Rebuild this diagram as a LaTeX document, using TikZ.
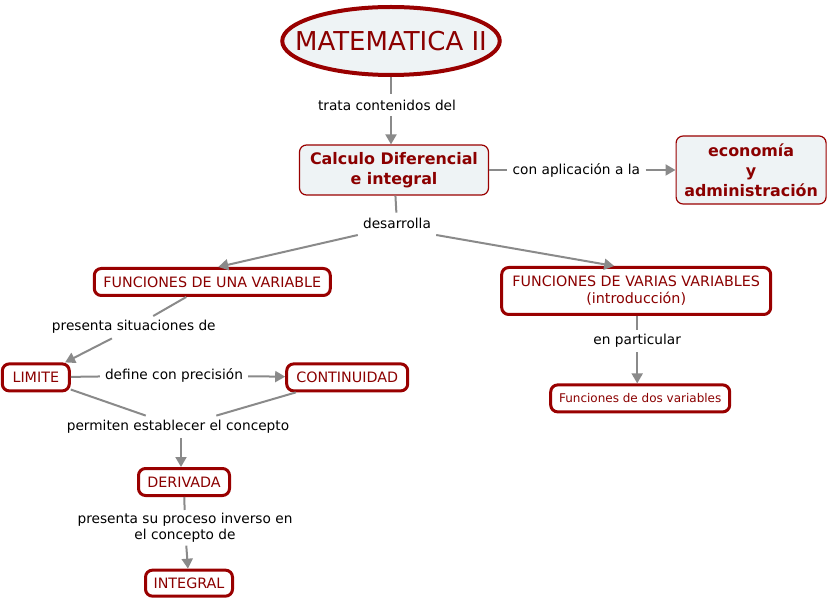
\documentclass[tikz,border=0pt]{standalone}
\usepackage{fontspec}
\setmainfont{DejaVu Sans}
\usetikzlibrary{arrows.meta,positioning,shapes.geometric}
\definecolor{r}{HTML}{8B0000}
\definecolor{R}{HTML}{990000}
\definecolor{g}{HTML}{8A8A8A}
\definecolor{f}{HTML}{EEF3F5}

\begin{document}
\begin{tikzpicture}[x=1pt,y=1pt,font=\fontsize{13.7}{16}\selectfont,
  concept/.style={draw=R,line width=3pt,rounded corners=7pt,fill=white,text=r,
    align=center,inner sep=0pt,font=\fontsize{14.3}{17}\selectfont},
  main/.style={draw=R,line width=1.2pt,rounded corners=7pt,fill=f,text=r,
    align=center,inner sep=0pt,font=\fontsize{15.9}{20}\selectfont\bfseries},
  link/.style={align=center,inner xsep=4pt,inner ysep=3pt,minimum height=22pt},
  line/.style={draw=g,line width=2pt},
  arr/.style={line,-{Triangle[length=10pt,width=11pt]}}]
  \useasboundingbox (0,0) rectangle (827,-601);
  \node[ellipse,draw=R,line width=4pt,fill=f,text=r,minimum width=214pt,
    minimum height=68pt,inner xsep=-19pt,inner ysep=0pt,font=\fontsize{26}{30}\selectfont]
    (root) at (391,-41) {MATEMATICA II};
  \node[link,minimum width=148pt,below=17pt of root,xshift=-4pt] (trata) {trata contenidos del};
  \node[main,minimum width=189pt,minimum height=50pt,below=28pt of trata,xshift=7pt] (calc)
    {Calculo Diferencial\\e integral};
  \node[link,minimum width=138pt,right=18pt of calc] (aplic) {con aplicación a la};
  \node[main,minimum width=150pt,minimum height=68pt,right=30pt of aplic] (econ)
    {economía\\y\\administración};
  \node[link,minimum width=78pt,below=17pt of calc,xshift=3pt] (desa) {desarrolla};
  \node[concept,minimum width=236pt,minimum height=27pt,below left=32pt and 26pt of desa] (una)
    {FUNCIONES DE UNA VARIABLE};
  \node[concept,minimum width=269pt,minimum height=47pt,below right=31pt and 64pt of desa] (varias)
    {FUNCIONES DE VARIAS VARIABLES\\(introducción)};
  \node[link,minimum width=178pt,below=19pt of una,xshift=-78.5pt] (situ) {presenta situaciones de};
  \node[concept,minimum width=67pt,minimum height=27pt,below=24pt of situ,xshift=-98pt] (limite) {LIMITE};
  \node[link,minimum width=148pt,right=29pt of limite,yshift=2pt] (define) {define con precisión};
  \node[concept,minimum width=121pt,minimum height=27pt,right=37pt of define,yshift=-2pt] (cont) {CONTINUIDAD};
  \node[link,minimum width=238pt,below=29pt of define,xshift=4pt] (permiten) {permiten establecer el concepto};
  \node[concept,minimum width=91pt,minimum height=27pt,below=29pt of permiten,xshift=6pt] (deriv) {DERIVADA};
  \node[link,minimum width=233pt,below=13pt of deriv,xshift=1pt] (inverso)
    {presenta su proceso inverso en\\el concepto de};
  \node[concept,minimum width=87pt,minimum height=26pt,below=23pt of inverso,xshift=4pt] (integ) {INTEGRAL};
  \node[link,minimum width=98pt,below=14pt of varias,xshift=1pt] (partic) {en particular};
  \node[concept,minimum width=179pt,minimum height=27pt,below=31pt of partic,xshift=3pt,
    font=\fontsize{12}{14}\selectfont] (dos) {Funciones de dos variables};
  % enlaces
  \draw[line] (root.south) -- (root.south|-trata.north);
  \draw[arr] (root.south|-trata.south) -- (root.south|-calc.north);
  \draw[line] (calc) -- (aplic); \draw[arr] (aplic) -- (econ);
  \draw[line] (calc) -- (desa);
  \draw[arr] (desa.south west) -- ([xshift=6pt]una.north);
  \draw[arr] (desa.south east) -- ([xshift=-22pt]varias.north);
  \draw[line] (una) -- (situ); \draw[arr] (situ) -- (limite);
  \draw[line] (limite) -- (define); \draw[arr] (define) -- (cont);
  \draw[line] (limite) -- (permiten); \draw[line] (cont) -- (permiten);
  \draw[arr] ([xshift=-3pt]deriv.north|-permiten.south) -- ([xshift=-3pt]deriv.north);
  \draw[line] (deriv) -- (inverso); \draw[arr] (inverso) -- (integ);
  \draw[line] (partic.north|-varias.south) -- (partic.north);
  \draw[arr] (partic.south) -- (partic.south|-dos.north);
\end{tikzpicture}
\end{document}
